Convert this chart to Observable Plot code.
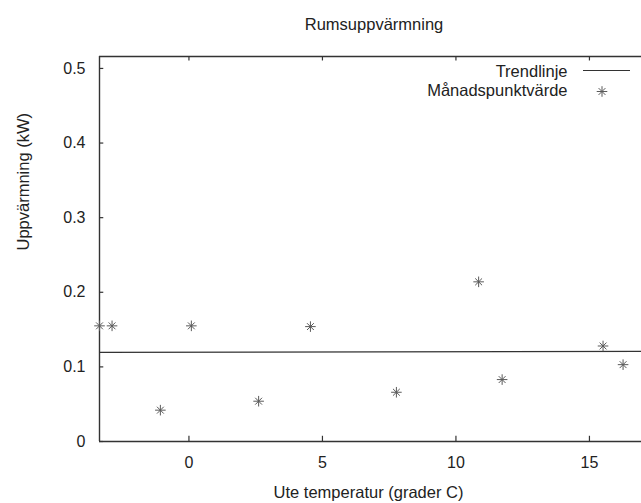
<!DOCTYPE html>
<html>
<head>
<meta charset="utf-8">
<script src="https://cdn.jsdelivr.net/npm/d3@7"></script>
<script src="https://cdn.jsdelivr.net/npm/@observablehq/plot@0.6"></script>
<style>
  html, body { margin: 0; padding: 0; background: #fff; }
  #wrap { position: relative; width: 641px; height: 503px; overflow: hidden; }
  #legendLine { position: absolute; left: 583px; top: 70px; width: 47px; height: 0; border-top: 1.2px solid #333; }
</style>
</head>
<body>
<div id="wrap"></div>
<script>
// ---- data ----
const temps = [-3.35, -2.88, -1.07, 0.09, 2.61, 4.55, 7.77, 10.85, 11.73, 15.51, 16.26];
const heat  = [0.155, 0.155, 0.042, 0.155, 0.054, 0.154, 0.066, 0.214, 0.083, 0.128, 0.103];
const trendX = [-3.35, 16.95];
const trendY = [0.1195, 0.1207];
const xTicks = [0, 5, 10, 15];
const yTicks = [0, 0.1, 0.2, 0.3, 0.4, 0.5];
const yTickLabels = ["0", "0.1", "0.2", "0.3", "0.4", "0.5"];
const title = "Rumsuppvärmning";
const xLabel = "Ute temperatur (grader C)";
const yLabel = "Uppvärmning (kW)";
const legendLabels = ["Trendlinje", "Månadspunktvärde"];

const xMin = -3.35, xMax = 16.95, yMin = 0, yMax = 0.516;
const points = temps.map((t, i) => ({t, h: heat[i]}));
const trend = trendX.map((t, i) => ({t, h: trendY[i]}));
const ink = "#333";
const starInk = "#5a5a5a";
const font = "Liberation Sans, Arial, Helvetica, sans-serif";

// gnuplot-style "*" point = plus + times
const star = (data, opts) => [
  Plot.dot(data, {...opts, symbol: "plus", r: 3.5, stroke: starInk, strokeWidth: 1}),
  Plot.dot(data, {...opts, symbol: "times", r: 3.2, stroke: starInk, strokeWidth: 1})
];

const chart = Plot.plot({
  width: 641,
  height: 503,
  marginLeft: 99,
  marginRight: 0,
  marginTop: 56,
  marginBottom: 62,
  style: {fontFamily: font, fontSize: "16px", color: "#222", background: "#fff"},
  x: {domain: [xMin, xMax], axis: null},
  y: {domain: [yMin, yMax], axis: null},
  marks: [
    // frame (left, bottom, top; right edge is cut off)
    Plot.ruleX([xMin], {y1: yMin, y2: yMax, stroke: ink, strokeWidth: 1.4}),
    Plot.ruleY([yMin, yMax], {x1: xMin, x2: xMax, stroke: ink, strokeWidth: 1.4}),
    // inward ticks
    Plot.ruleY(yTicks, {y: d => d, x1: xMin, x2: xMin + 0.16, stroke: ink, strokeWidth: 1.2}),
    Plot.ruleX(xTicks, {x: d => d, y1: yMin, y2: yMin + 0.007, stroke: ink, strokeWidth: 1.2}),
    Plot.ruleX(xTicks, {x: d => d, y1: yMax, y2: yMax - 0.006, stroke: ink, strokeWidth: 1.2}),
    // tick labels
    Plot.axisX(xTicks, {anchor: "bottom", tickSize: 0, tickPadding: 15, fontSize: 16, label: null, tickFormat: d => String(d)}),
    Plot.axisY(yTicks, {anchor: "left", tickSize: 0, tickPadding: 14, fontSize: 16, label: null, tickFormat: (d, i) => yTickLabels[i]}),
    // trend line
    Plot.line(trend, {x: "t", y: "h", stroke: ink, strokeWidth: 1.2}),
    // monthly points
    ...star(points, {x: "t", y: "h"}),
    // titles
    Plot.text([title], {frameAnchor: "top", lineAnchor: "middle", dx: 3.5, dy: -32, fontSize: 16.5, fill: "#222"}),
    Plot.text([xLabel], {frameAnchor: "bottom", lineAnchor: "middle", dx: -2, dy: 51, fontSize: 16.5, fill: "#222"}),
    Plot.text([yLabel], {frameAnchor: "left", lineAnchor: "middle", rotate: -90, dx: -76, dy: 1.5, fontSize: 16.5, fill: "#222"}),
    // legend
    Plot.text([legendLabels[0]], {frameAnchor: "top-right", lineAnchor: "middle", textAnchor: "end", dx: -74, dy: 15, fontSize: 16.5, fill: "#222"}),
    Plot.text([legendLabels[1]], {frameAnchor: "top-right", lineAnchor: "middle", textAnchor: "end", dx: -74, dy: 34.5, fontSize: 16.5, fill: "#222"}),
    ...star([0], {frameAnchor: "top-right", dx: -39.5, dy: 35})
  ]
});
const wrap = document.getElementById("wrap");
wrap.appendChild(chart);
const ll = document.createElement("div");
ll.id = "legendLine";
wrap.appendChild(ll);
</script>
</body>
</html>
